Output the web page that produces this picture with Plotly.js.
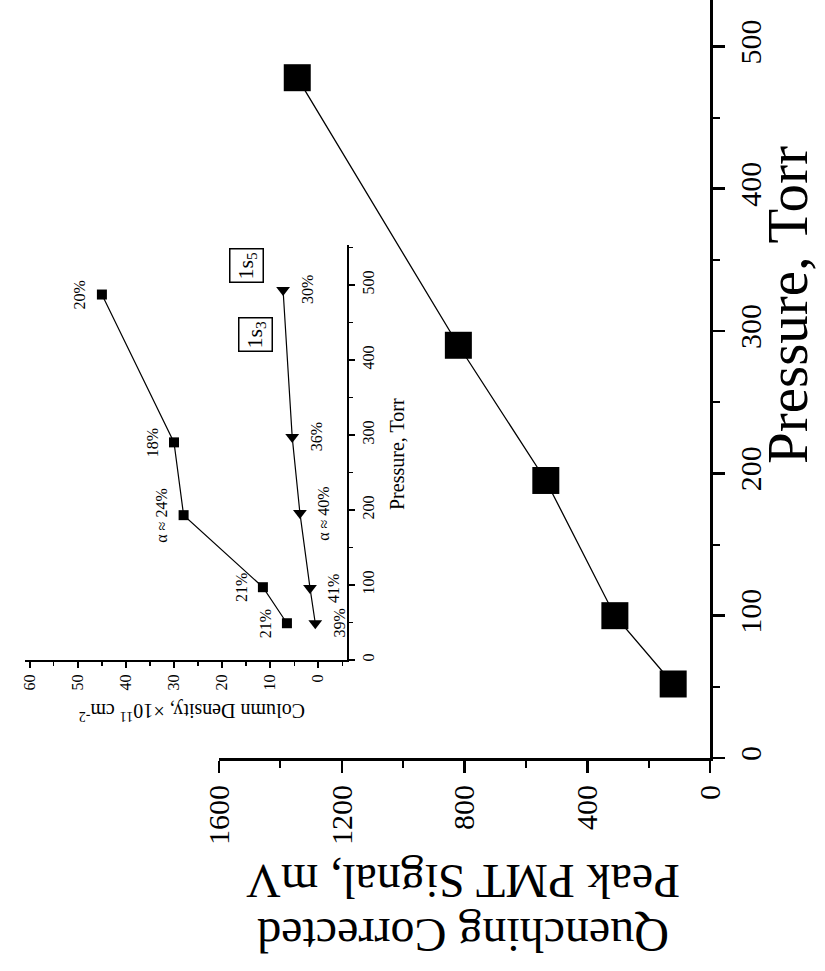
<!DOCTYPE html>
<html>
<head>
<meta charset="utf-8">
<script src="https://cdn.plot.ly/plotly-3.0.1.min.js"></script>
<style>html,body{margin:0;padding:0;background:#fff;}#chart{width:825px;height:971px;}</style>
</head>
<body>
<div id="chart"></div>
<script>
// ---- data (figure is printed rotated 90° counter-clockwise) ----
const mainPressure = [52, 100, 195, 290, 478];          // Torr
const mainSignal   = [120, 310, 535, 820, 1345];        // mV

const p1s5 = [49, 97, 193, 290, 487];                   // Torr
const d1s5 = [6.5, 11.5, 28, 30, 45];                   // x10^11 cm^-2
const lab1s5 = ["21%", "21%", "α ≈ 24%", "18%", "20%"];

const p1s3 = [49, 96, 196, 297, 493];
const d1s3 = [0.6, 1.7, 3.8, 5.4, 7.3];
const lab1s3 = ["39%", "41%", "α ≈ 40%", "36%", "30%"];

const mainSignalTicks = [0, 400, 800, 1200, 1600];
const mainPressureTicks = [0, 100, 200, 300, 400, 500];
const insetDensityTicks = [0, 10, 20, 30, 40, 50, 60];
const insetPressureTicks = [0, 100, 200, 300, 400, 500];

// ---- layout helpers ----
const W = 825, H = 971;
const px = x => x / W;
const py = y => 1 - y / H;
const SERIF = "Liberation Serif, Times New Roman, serif";

const traces = [
  {x: mainSignal, y: mainPressure, xaxis: 'x', yaxis: 'y', type: 'scatter', mode: 'lines+markers',
   line: {color: '#000', width: 1.3}, marker: {symbol: 'square', size: 27, color: '#000'}, showlegend: false, hoverinfo: 'skip'},
  {x: d1s5, y: p1s5, xaxis: 'x2', yaxis: 'y2', type: 'scatter', mode: 'lines+markers',
   line: {color: '#000', width: 1.2}, marker: {symbol: 'square', size: 10, color: '#000'}, showlegend: false, hoverinfo: 'skip'},
  {x: d1s3, y: p1s3, xaxis: 'x2', yaxis: 'y2', type: 'scatter', mode: 'lines+markers',
   line: {color: '#000', width: 1.2}, marker: {symbol: 'triangle-down', size: 12, color: '#000'}, showlegend: false, hoverinfo: 'skip'}
];

const ann = [];
// main titles
ann.push({xref: 'paper', yref: 'paper', x: px(787), y: py(305), text: 'Pressure, Torr', textangle: -90,
  showarrow: false, xanchor: 'center', yanchor: 'middle', font: {family: SERIF, size: 57, color: '#000'}});
ann.push({xref: 'paper', yref: 'paper', x: px(463), y: py(882), text: 'Peak PMT Signal, mV', textangle: 180,
  showarrow: false, xanchor: 'center', yanchor: 'middle', font: {family: SERIF, size: 48, color: '#000'}});
ann.push({xref: 'paper', yref: 'paper', x: px(463), y: py(936), text: 'Quenching Corrected', textangle: 180,
  showarrow: false, xanchor: 'center', yanchor: 'middle', font: {family: SERIF, size: 48, color: '#000'}});
// inset titles
ann.push({xref: 'paper', yref: 'paper', x: px(397), y: py(454), text: 'Pressure, Torr', textangle: -90,
  showarrow: false, xanchor: 'center', yanchor: 'middle', font: {family: SERIF, size: 20, color: '#000'}});
ann.push({xref: 'paper', yref: 'paper', x: px(192), y: py(712), text: 'Column Density, ×10<sup>11</sup> cm<sup>-2</sup>', textangle: 180,
  showarrow: false, xanchor: 'center', yanchor: 'middle', font: {family: SERIF, size: 20, color: '#000'}});
// state boxes
ann.push({xref: 'paper', yref: 'paper', x: px(246), y: py(265), text: '1s<sub>5</sub>', textangle: -90,
  showarrow: false, xanchor: 'center', yanchor: 'middle', bordercolor: '#000', borderwidth: 1.5, borderpad: 2,
  font: {family: SERIF, size: 22, color: '#000'}});
ann.push({xref: 'paper', yref: 'paper', x: px(255), y: py(335), text: '1s<sub>3</sub>', textangle: -90,
  showarrow: false, xanchor: 'center', yanchor: 'middle', bordercolor: '#000', borderwidth: 1.5, borderpad: 2,
  font: {family: SERIF, size: 22, color: '#000'}});
// percentage labels
for (let i = 0; i < d1s5.length; i++) {
  ann.push({xref: 'x2', yref: 'y2', x: d1s5[i], y: p1s5[i], text: lab1s5[i], textangle: -90, showarrow: false,
    xshift: -22, font: {family: SERIF, size: 16, color: '#000'}});
}
for (let i = 0; i < d1s3.length; i++) {
  ann.push({xref: 'x2', yref: 'y2', x: d1s3[i], y: p1s3[i], text: lab1s3[i], textangle: -90, showarrow: false,
    xshift: 24, font: {family: SERIF, size: 16, color: '#000'}});
}

const axBase = {showgrid: false, zeroline: false, showline: true, linecolor: '#000', ticks: 'outside',
  tickcolor: '#000', fixedrange: true};

const layout = {
  width: W, height: H,
  margin: {l: 0, r: 0, t: 0, b: 0, pad: 0},
  paper_bgcolor: '#fff', plot_bgcolor: 'rgba(0,0,0,0)',
  showlegend: false,
  xaxis: Object.assign({}, axBase, {
    domain: [px(219), px(710)], range: [1600, 0], anchor: 'y', linewidth: 3,
    tickmode: 'array', tickvals: mainSignalTicks, ticktext: mainSignalTicks.map(String),
    ticklen: 12, tickwidth: 2.5, tickangle: -90,
    minor: {dtick: 200, tick0: 0, ticks: 'outside', ticklen: 7, tickwidth: 2, tickcolor: '#000'},
    tickfont: {family: SERIF, size: 30, color: '#000'}
  }),
  yaxis: Object.assign({}, axBase, {
    domain: [py(758), 1], range: [0, 532.6], anchor: 'x', side: 'right', linewidth: 3,
    tickmode: 'array', tickvals: mainPressureTicks, ticktext: mainPressureTicks.map(String),
    ticklen: 12, tickwidth: 2.5, tickangle: -90,
    minor: {dtick: 50, tick0: 0, ticks: 'outside', ticklen: 7, tickwidth: 2, tickcolor: '#000'},
    tickfont: {family: SERIF, size: 30, color: '#000'}
  }),
  xaxis2: Object.assign({}, axBase, {
    domain: [px(25), px(347)], range: [61, -6], anchor: 'y2', linewidth: 2,
    tickmode: 'array', tickvals: insetDensityTicks, ticktext: insetDensityTicks.map(String),
    ticklen: 6, tickwidth: 1.5, tickangle: -90,
    minor: {dtick: 5, tick0: 0, ticks: 'outside', ticklen: 4, tickwidth: 1.2, tickcolor: '#000'},
    tickfont: {family: SERIF, size: 16, color: '#000'}
  }),
  yaxis2: Object.assign({}, axBase, {
    domain: [py(660), py(245)], range: [0, 553], anchor: 'x2', side: 'right', linewidth: 2,
    tickmode: 'array', tickvals: insetPressureTicks, ticktext: insetPressureTicks.map(String),
    ticklen: 6, tickwidth: 1.5, tickangle: -90,
    minor: {dtick: 50, tick0: 0, ticks: 'outside', ticklen: 4, tickwidth: 1.2, tickcolor: '#000'},
    tickfont: {family: SERIF, size: 16, color: '#000'}
  }),
  annotations: ann
};

Plotly.newPlot('chart', traces, layout, {staticPlot: true, displayModeBar: false});
</script>
</body>
</html>
